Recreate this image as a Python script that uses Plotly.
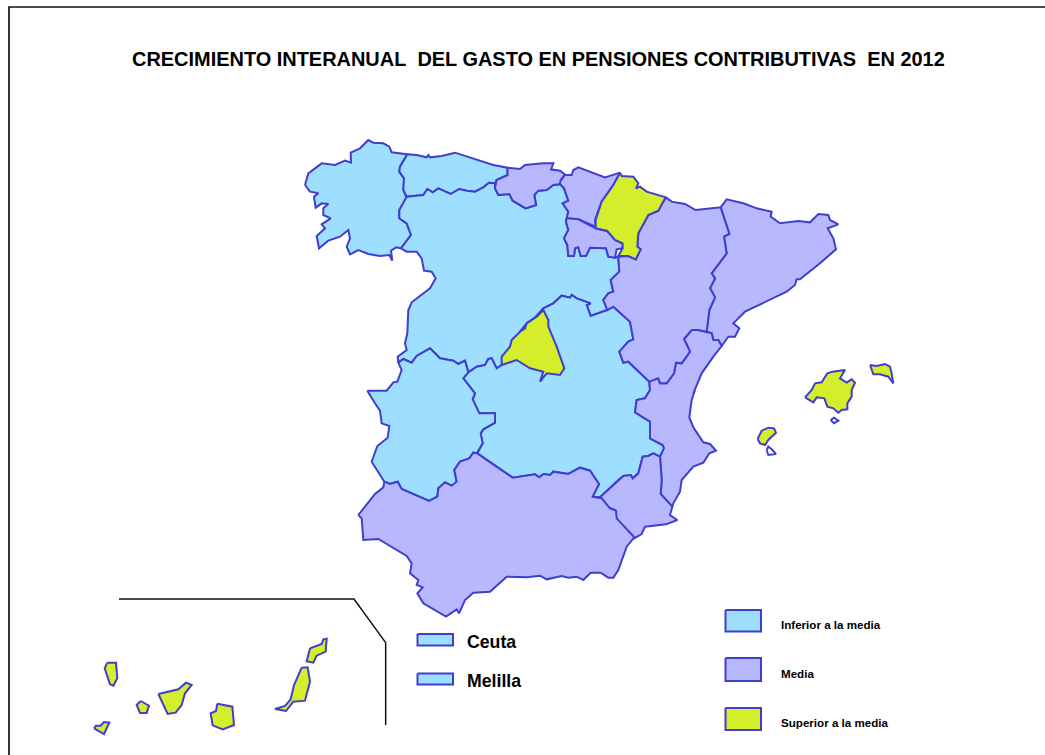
import plotly.graph_objects as go

# Colours of the three classes
LOW = "#9EDFFF"
MID = "#B8B8FF"
HIGH = "#D4EE2C"
EDGE = "#3F3FCF"


def crop(ox, oy, pts):
    """Outline points traced at 3x from an image region at (ox, oy)."""
    return [(ox + x / 3, oy + y / 3) for x, y in pts]


def a(pts):
    return crop(290, 130, pts)


def b(pts):
    return crop(550, 160, pts)


def c(pts):
    return crop(350, 340, pts)


def d(pts):
    return crop(590, 340, pts)


def e(pts):
    return crop(80, 590, pts)


GALICIA = a([(45,165),(55,130),(95,100),(135,105),(165,92),(183,98),(182,68),(210,55),(235,30),(250,38),(280,40),(298,50),(305,67),(352,73),(330,110),(328,125),(342,145),(340,180),(350,203),(328,240),(328,265),(350,280),(363,315),(333,355),(318,352),(303,362),(307,392),(298,375),(270,378),(235,372),(205,360),(180,373),(170,350),(180,325),(175,300),(150,320),(115,332),(87,355),(80,318),(105,295),(95,283),(122,265),(100,255),(100,235),(115,222),(95,220),(77,233),(72,200),(85,190),(60,185)])
ASTURIAS = a([(352,73),(380,75),(410,82),(415,75),(420,82),(455,78),(495,68),(555,88),(610,105),(652,113),(653,135),(620,150),(615,160),(597,158),(580,172),(555,185),(530,182),(508,177),(482,192),(445,175),(428,187),(412,177),(400,195),(350,200),(340,180),(342,145),(328,125),(330,110)])
CANTABRIA = a([(652,113),(690,117),(705,105),(760,100),(790,100),(783,118),(810,122),(825,133),(812,150),(815,162),(790,165),(770,180),(745,182),(733,195),(738,225),(707,235),(668,212),(658,192),(625,195),(615,175),(620,150),(653,135)])
PAIS_VASCO = b([(30,65),(45,45),(65,45),(70,30),(85,22),(125,38),(165,52),(210,38),(190,75),(155,125),(135,180),(137,200),(85,178),(50,175),(55,155),(38,130),(55,122),(42,85),(30,72)])
NAVARRA = b([(210,38),(215,48),(250,50),(265,70),(258,85),(270,80),(290,95),(347,112),(325,152),(295,165),(265,220),(262,260),(272,268),(257,298),(235,288),(205,288),(218,265),(218,250),(195,240),(172,213),(137,205),(137,180),(155,125),(190,75)])
RIOJA = b([(50,175),(85,178),(137,205),(172,213),(195,240),(218,250),(218,265),(200,268),(195,293),(175,290),(168,265),(120,263),(108,288),(92,288),(85,262),(75,265),(72,288),(55,288),(52,255),(42,235),(55,210),(48,185)])
ARAGON = b([(347,112),(365,125),(405,132),(437,150),(512,142),(538,222),(522,230),(530,280),(485,340),(495,355),(480,385),(495,412),(478,450),(470,515),(445,510),(425,510),(402,537),(420,575),(395,610),(378,608),(372,640),(350,670),(330,670),(325,655),(298,665),(250,620),(235,605),(220,608),(208,575),(235,545),(250,538),(240,485),(190,440),(172,450),(160,420),(175,400),(190,395),(182,360),(208,335),(205,290),(235,288),(257,298),(272,268),(262,260),(265,220),(295,165),(325,152)])
CATALUNA = b([(512,142),(530,118),(580,130),(620,145),(665,155),(662,170),(690,190),(745,183),(780,187),(805,162),(835,165),(840,180),(865,193),(833,205),(850,235),(858,268),(810,310),(750,358),(740,358),(735,375),(710,395),(585,455),(550,490),(568,505),(555,530),(535,530),(515,558),(505,540),(490,540),(485,520),(470,515),(478,450),(495,412),(480,385),(495,355),(485,340),(530,280),(522,230),(538,222)])
VALENCIA = (
    b([(402,537),(425,510),(445,510),(470,515),(485,520),(490,540),(505,540),(515,558),(490,590),(455,640),(430,700)])
    + d([(315,150),(305,180),(298,232),(310,262),(340,307),(360,312),(378,332),(358,340),(340,368),(310,380),(275,420),(270,455),(250,490),(247,500),(212,462),(215,420),(210,350),(222,325),(218,315),(180,295),(180,245),(135,217),(140,180),(165,175),(180,150),(178,122)])
    + b([(325,655),(330,670),(350,670),(372,640),(378,608),(395,610),(420,575)])
)
MURCIA = d([(30,472),(60,445),(85,420),(100,408),(122,405),(128,415),(145,400),(158,350),(175,348),(190,340),(210,350),(215,420),(212,462),(247,500),(240,525),(262,540),(228,553),(165,560),(155,582),(133,595),(110,580),(78,540),(75,510),(50,500),(35,475)])
ANDALUCIA = c([(25,525),(75,462),(100,442),(103,425),(120,432),(143,425),(155,447),(237,483),(262,470),(265,445),(285,427),(305,437),(320,425),(313,390),(330,365),(358,355),(370,338),(382,340),(425,370),(488,413),(555,403),(568,412),(580,402),(600,405),(610,395),(655,402),(690,383),(720,392),(747,432),(728,470),(755,475),(780,505),(798,512),(800,535),(853,592),(830,620),(805,690),(790,713),(775,713),(752,698),(722,698),(700,720),(680,710),(655,713),(635,708),(590,718),(570,707),(530,712),(470,710),(420,755),(370,758),(345,780),(327,820),(320,808),(288,830),(220,790),(202,760),(218,742),(200,735),(205,720),(180,700),(185,670),(170,648),(105,607),(85,597),(40,600),(35,535)])
EXTREMADURA = c([(52,152),(110,152),(130,127),(142,125),(155,90),(145,68),(160,57),(185,68),(200,48),(240,25),(270,55),(310,62),(325,72),(345,62),(355,97),(340,115),(375,160),(368,178),(388,220),(435,220),(435,248),(400,268),(392,280),(398,310),(380,340),(370,338),(358,355),(330,365),(313,390),(320,425),(305,437),(285,427),(265,445),(262,470),(237,483),(155,447),(143,425),(120,432),(103,425),(65,365),(82,318),(113,293),(118,258),(95,250),(90,212),(75,190)])
CASTILLA_MANCHA = (
    c([(355,97),(380,80),(405,75),(415,57),(425,55),(440,85),(455,75),(490,5)])
    + a([(760,535),(790,520),(815,497),(840,503)])
    + b([(65,405),(80,415),(122,430),(110,435),(122,468),(172,450),(190,440),(240,485),(250,538),(235,545),(208,575),(220,608),(235,605),(250,620),(298,665)])
    + d([(180,150),(165,175),(140,180),(135,217),(180,245),(180,295),(218,315),(222,325),(210,350),(190,340),(175,348),(158,350),(145,400),(128,415),(122,405),(100,408),(85,420),(60,445),(30,472)])
    + c([(728,470),(747,432),(720,392),(690,383),(655,402),(610,395),(600,405),(580,402),(568,412),(555,403),(488,413),(425,370),(382,340),(398,310),(392,280),(400,268),(435,248),(435,220),(388,220),(368,178),(375,160),(340,115)])
)
CASTILLA_LEON = (
    c([(145,68),(160,57),(185,68),(200,48),(240,25),(270,55),(310,62),(325,72),(345,62),(355,97),(380,80),(405,75),(415,57),(425,55),(440,85),(455,75)])
    + a([(660,650),(690,605),(710,580),(740,560),(760,535),(790,520),(815,497),(840,503)])
    + b([(65,405),(80,415),(122,430),(110,435),(122,468),(172,450),(160,420),(175,400),(190,395),(182,360),(208,335),(205,290),(195,293),(175,290),(168,265),(120,263),(108,288),(92,288),(85,262),(75,265),(72,288),(55,288),(52,255),(42,235),(55,210),(48,185),(50,175),(55,155),(38,130),(55,122),(42,85),(30,72)])
    + a([(815,162),(790,165),(770,180),(745,182),(733,195),(738,225),(707,235),(668,212),(658,192),(625,195),(615,175),(615,160),(597,158),(580,172),(555,185),(530,182),(508,177),(482,192),(445,175),(428,187),(412,177),(400,195),(350,200),(328,240),(328,265),(350,280),(363,315),(333,355),(350,365),(380,365),(395,385),(402,422),(425,425),(437,445),(420,475),(365,517),(355,540),(352,610),(345,640),(350,660),(323,680),(325,695)])
)
MADRID = (
    a([(635,705),(635,680),(660,650),(665,630),(690,605),(705,595),(710,580),(740,560),(760,540),(775,570),(775,590),(800,650),(822,712)])
    + c([(643,85),(630,105),(590,100),(570,125),(580,95),(540,85),(500,60)])
)
MALLORCA = d([(645,172),(665,150),(675,130),(695,127),(712,100),(728,95),(765,90),(750,115),(770,128),(785,118),(795,128),(785,150),(785,170),(772,190),(772,208),(755,210),(745,218),(730,205),(712,200),(703,175),(680,172),(670,187)])
MENORCA = d([(840,75),(860,78),(885,72),(900,80),(905,100),(910,130),(895,110),(870,103),(850,103)])
IBIZA = d([(503,297),(515,272),(535,263),(552,265),(558,278),(535,300),(525,315),(510,310)])
FORMENTERA = d([(530,330),(535,320),(545,328),(558,342),(535,345)])
CABRERA = d([(722,240),(732,233),(745,242),(732,250)])
LANZAROTE = e([(690,175),(725,162),(730,148),(740,146),(737,185),(710,197),(700,218),(680,214)])
FUERTEVENTURA = e([(665,233),(683,232),(690,275),(675,332),(640,335),(618,363),(585,357),(615,348),(632,328),(642,285)])
GRAN_CANARIA = e([(412,341),(457,350),(462,405),(428,418),(398,406),(392,370),(408,363)])
TENERIFE = e([(235,312),(295,298),(318,278),(335,285),(315,310),(305,345),(287,368),(263,372)])
GOMERA = e([(182,333),(207,347),(200,369),(180,369),(170,345)])
LA_PALMA = e([(82,218),(108,218),(112,265),(100,287),(90,283),(74,235)])
EL_HIERRO = e([(42,415),(48,407),(62,407),(72,396),(88,398),(72,432)])
INSET_LINE = e([(117,27),(822,27),(917,158),(917,405)])

# Legend boxes and autonomous cities: (left, right, top, bottom)
CEUTA_BOX = (417.5, 453, 634, 645.5)
MELILLA_BOX = (417.5, 453, 673.5, 684.5)
LEGEND_LOW_BOX = (725.5, 761, 610, 631.5)
LEGEND_MID_BOX = (725.5, 761, 658, 681)
LEGEND_HIGH_BOX = (725.5, 761, 708, 730)

FRAME = [(9, 755), (9, 7), (1045, 7)]

TITLE = "CRECIMIENTO INTERANUAL\u00a0 DEL GASTO EN PENSIONES CONTRIBUTIVAS\u00a0 EN 2012"
CITY_LABELS = ["Ceuta", "Melilla"]
LEGEND_LABELS = ["Inferior a la media", "Media", "Superior a la media"]

REGIONS = [
    (GALICIA, LOW), (ASTURIAS, LOW), (CASTILLA_LEON, LOW), (CASTILLA_MANCHA, LOW),
    (EXTREMADURA, LOW), (CANTABRIA, MID), (PAIS_VASCO, MID), (RIOJA, MID),
    (CATALUNA, MID), (VALENCIA, MID), (MURCIA, MID), (ARAGON, MID), (ANDALUCIA, MID),
    (NAVARRA, HIGH), (MADRID, HIGH), (MALLORCA, HIGH), (MENORCA, HIGH), (IBIZA, HIGH),
    (FORMENTERA, "white"), (CABRERA, "white"),
    (LANZAROTE, HIGH), (FUERTEVENTURA, HIGH), (GRAN_CANARIA, HIGH), (TENERIFE, HIGH),
    (GOMERA, HIGH), (LA_PALMA, HIGH), (EL_HIERRO, HIGH),
]


def box(b_):
    l, r, t, bt = b_
    return [(l, t), (r, t), (r, bt), (l, bt)]


BOXES = [
    (CEUTA_BOX, LOW), (MELILLA_BOX, LOW), (LEGEND_LOW_BOX, LOW),
    (LEGEND_MID_BOX, MID), (LEGEND_HIGH_BOX, HIGH),
]

fig = go.Figure()


def polygon(pts, fill):
    fig.add_trace(go.Scatter(
        x=[p[0] for p in pts] + [pts[0][0]],
        y=[p[1] for p in pts] + [pts[0][1]],
        mode="lines", fill="toself", fillcolor=fill,
        line=dict(color=EDGE, width=2),
        hoverinfo="skip", showlegend=False,
    ))


def polyline(pts, width):
    fig.add_trace(go.Scatter(
        x=[p[0] for p in pts], y=[p[1] for p in pts],
        mode="lines", line=dict(color="#111111", width=width),
        hoverinfo="skip", showlegend=False,
    ))


polyline(FRAME, 1.7)
polyline(INSET_LINE, 1.5)
for pts, fill in REGIONS:
    polygon(pts, fill)
for bx, fill in BOXES:
    polygon(box(bx), fill)

FONT = "Liberation Sans, Arial, sans-serif"


def label(x, y, text, size, anchor="left"):
    fig.add_annotation(x=x, y=y, text=f"<b>{text}</b>", showarrow=False,
                       xanchor=anchor, yanchor="middle",
                       font=dict(family=FONT, size=size, color="black"))


label(538.5, 59, TITLE, 19.95, "center")
label(465, 641.5, CITY_LABELS[0], 17.7)
label(465, 680.5, CITY_LABELS[1], 17.7)
label(779, 624.5, LEGEND_LABELS[0], 11.6)
label(779, 673.5, LEGEND_LABELS[1], 11.6)
label(779, 722.5, LEGEND_LABELS[2], 11.6)

fig.update_layout(
    width=1045, height=755, autosize=False,
    margin=dict(l=0, r=0, t=0, b=0),
    paper_bgcolor="white", plot_bgcolor="white",
    xaxis=dict(range=[0, 1045], visible=False, fixedrange=True),
    yaxis=dict(range=[755, 0], visible=False, fixedrange=True),
)
fig.write_html("out.html", config={"displayModeBar": False},
               post_script="document.body.style.margin='0';document.body.style.overflow='hidden';")
